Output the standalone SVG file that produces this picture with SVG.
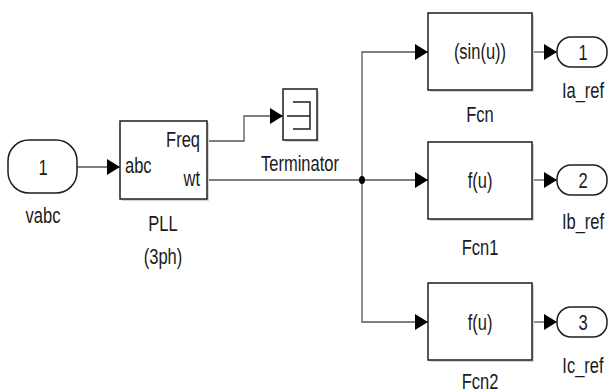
<svg xmlns="http://www.w3.org/2000/svg" width="616" height="392" viewBox="0 0 616 392">
<style>
.blk{fill:#fff;stroke:#1e1e1e;stroke-width:1.5}
.sh{fill:#d4d4d4;stroke:none}
.port{fill:#fff;stroke:#1e1e1e;stroke-width:1.5}
.ln{fill:none;stroke:#555;stroke-width:1.3}
.sym{fill:none;stroke:#1e1e1e;stroke-width:1.5}
text{font-family:"Liberation Sans",Arial,sans-serif;font-size:22px;fill:#1a1a1a}
.m{text-anchor:middle}
.e{text-anchor:end}
</style>
<defs>
<marker id="ah" markerUnits="userSpaceOnUse" markerWidth="13" markerHeight="16" refX="13" refY="8" orient="auto">
<path d="M0,0 L13,8 L0,16 z" fill="#000"/>
</marker>
</defs>
<g id="connectors">
<path class="ln" d="M77,167 H120" marker-end="url(#ah)"/>
<path class="ln" d="M207,141 H244 V116 H283" marker-end="url(#ah)"/>
<path class="ln" d="M207,180 H362"/>
<path class="ln" d="M362,180 V52 H428" marker-end="url(#ah)"/>
<path class="ln" d="M362,180 H428" marker-end="url(#ah)"/>
<path class="ln" d="M362,180 V322 H428" marker-end="url(#ah)"/>
<path class="ln" d="M532,52 H557" marker-end="url(#ah)"/>
<path class="ln" d="M532,180 H557" marker-end="url(#ah)"/>
<path class="ln" d="M532,322 H557" marker-end="url(#ah)"/>
<ellipse cx="362" cy="180" rx="3" ry="4" fill="#000"/>
</g>
<g id="vabc">
<rect class="port" x="8" y="140" width="69" height="53" rx="21"/>
<text class="m" transform="translate(43,175) scale(0.75,1)">1</text>
<text class="m" transform="translate(43,223) scale(0.75,1)">vabc</text>
</g>
<g id="pll">
<rect class="sh" x="122" y="123" width="87" height="78"/>
<rect class="blk" x="120" y="121" width="87" height="78"/>
<text transform="translate(125,173) scale(0.75,1)">abc</text>
<text class="e" transform="translate(200,147) scale(0.75,1)">Freq</text>
<text class="e" transform="translate(200,186) scale(0.75,1)">wt</text>
<text class="m" transform="translate(163,231) scale(0.75,1)">PLL</text>
<text class="m" transform="translate(163,264) scale(0.75,1)">(3ph)</text>
</g>
<g id="terminator">
<rect class="sh" x="285" y="91" width="34" height="51"/>
<rect class="blk" x="283" y="89" width="34" height="51"/>
<path class="sym" d="M293,102 H310 V129 H293 M287,116 H310"/>
<text class="m" transform="translate(300,171) scale(0.75,1)">Terminator</text>
</g>
<g id="fcn">
<rect class="sh" x="430" y="15" width="104" height="77"/>
<rect class="blk" x="428" y="13" width="104" height="77"/>
<text class="m" transform="translate(480,59) scale(0.75,1)">(sin(u))</text>
<text class="m" transform="translate(480,122) scale(0.75,1)">Fcn</text>
</g>
<g id="fcn1">
<rect class="sh" x="430" y="144" width="104" height="77"/>
<rect class="blk" x="428" y="142" width="104" height="77"/>
<text class="m" transform="translate(480,188) scale(0.75,1)">f(u)</text>
<text class="m" transform="translate(480,255) scale(0.75,1)">Fcn1</text>
</g>
<g id="fcn2">
<rect class="sh" x="430" y="285" width="104" height="77"/>
<rect class="blk" x="428" y="283" width="104" height="77"/>
<text class="m" transform="translate(480,330) scale(0.75,1)">f(u)</text>
<text class="m" transform="translate(480,389) scale(0.75,1)">Fcn2</text>
</g>
<g id="ia_ref">
<rect class="port" x="557" y="37" width="50" height="30" rx="14"/>
<text class="m" transform="translate(583,60) scale(0.75,1)">1</text>
<text class="m" transform="translate(583,98) scale(0.75,1)">Ia_ref</text>
</g>
<g id="ib_ref">
<rect class="port" x="557" y="165" width="50" height="30" rx="14"/>
<text class="m" transform="translate(583,188) scale(0.75,1)">2</text>
<text class="m" transform="translate(583,229) scale(0.75,1)">Ib_ref</text>
</g>
<g id="ic_ref">
<rect class="port" x="557" y="307" width="50" height="30" rx="14"/>
<text class="m" transform="translate(583,330) scale(0.75,1)">3</text>
<text class="m" transform="translate(583,373) scale(0.75,1)">Ic_ref</text>
</g>
</svg>
